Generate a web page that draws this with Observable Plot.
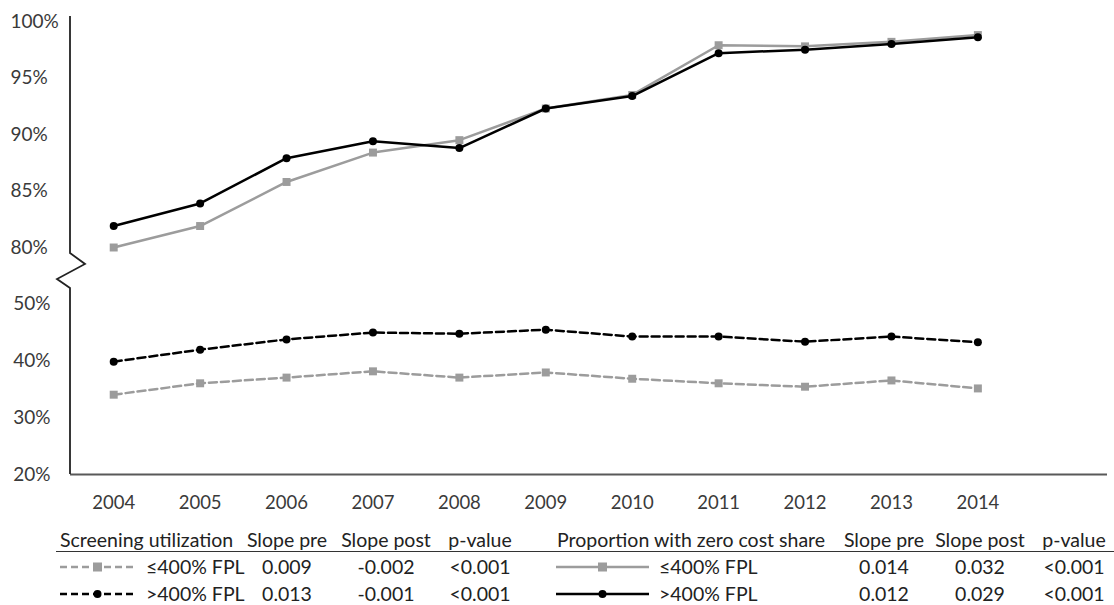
<!DOCTYPE html>
<html><head><meta charset="utf-8">
<script src="https://cdn.jsdelivr.net/npm/d3@7"></script>
<script src="https://cdn.jsdelivr.net/npm/@observablehq/plot@0.6"></script>
<style>
html,body{margin:0;padding:0;background:#fff;}
#wrap{position:relative;width:1114px;height:605px;font-family:Lato,sans-serif;}
#legend{position:absolute;left:0;top:520px;width:1114px;height:85px;}
.t{position:absolute;font-size:19.5px;color:#222;white-space:nowrap;transform:translate(0,-50%);line-height:1;}
.c{transform:translate(-50%,-50%);}
</style></head><body><div id="wrap"></div>
<script>
// ---- data ----
const years = [2004, 2005, 2006, 2007, 2008, 2009, 2010, 2011, 2012, 2013, 2014];
const zeroCostLow  = [80.0, 81.9, 85.8, 88.4, 89.5, 92.3, 93.5, 97.9, 97.8, 98.2, 98.8];
const zeroCostHigh = [81.9, 83.9, 87.9, 89.4, 88.8, 92.3, 93.4, 97.2, 97.5, 98.0, 98.6];
const screeningLow  = [34.0, 36.0, 37.0, 38.1, 37.0, 37.9, 36.8, 36.0, 35.4, 36.5, 35.1];
const screeningHigh = [39.8, 41.9, 43.7, 44.9, 44.7, 45.4, 44.2, 44.2, 43.3, 44.2, 43.2];
const yTicksTop = [80, 85, 90, 95, 100];
const yTicksBottom = [20, 30, 40, 50];
const groups = ["≤400% FPL", ">400% FPL"];
const leftHeader = ["Screening utilization", "Slope pre", "Slope post", "p-value"];
const rightHeader = ["Proportion with zero cost share", "Slope pre", "Slope post", "p-value"];
const screeningStats = [["0.009", "-0.002", "<0.001"], ["0.013", "-0.001", "<0.001"]];
const zeroCostStats  = [["0.014", "0.032", "<0.001"], ["0.012", "0.029", "<0.001"]];

const GRAY = "#9c9c9c", BLACK = "#000";
const rows = (vals) => years.map((year, i) => ({year, value: vals[i]}));

// broken y-axis line drawn from the y scale
const breakAxis = (index, scales, values, dims) => {
  const y = scales.y, x0 = dims.marginLeft;
  const pts = [[x0, y(100) - 5], [x0, y(80) + 6], [x0 + 15, y(80) + 17], [x0 - 13, y(80) + 32], [x0, y(50) - 15], [x0, y(20)]];
  const p = document.createElementNS("http://www.w3.org/2000/svg", "path");
  p.setAttribute("d", d3.line()(pts));
  p.setAttribute("fill", "none");
  p.setAttribute("stroke", "#222");
  p.setAttribute("stroke-width", "1.8");
  return p;
};

const chart = Plot.plot({
  width: 1114, height: 520,
  marginLeft: 70, marginRight: 7, marginTop: 14, marginBottom: 46,
  style: {fontFamily: "Lato, sans-serif", fontSize: "18px", color: "#3a3a3a", background: "#fff", overflow: "visible"},
  x: {type: "linear", domain: [2003.5, 2015.5], range: [70, 1107]},
  y: {type: "linear", domain: [20, 50, 80, 100], range: [474, 303, 247, 21]},
  marks: [
    Plot.ruleY([20], {stroke: "#595959", strokeWidth: 2}),
    breakAxis,
    Plot.axisY({ticks: yTicksTop, tickSize: 0, tickPadding: 60, textAnchor: "start", tickFormat: d => d + "%", label: null, fontSize: 19}),
    Plot.axisY({ticks: yTicksBottom, tickSize: 0, tickPadding: 20, tickFormat: d => d + "%", label: null, fontSize: 19}),
    Plot.axisX({ticks: years, tickSize: 0, tickPadding: 21, tickFormat: d => String(d), label: null, fontSize: 18.5}),
    Plot.line(rows(screeningLow), {x: "year", y: "value", stroke: GRAY, strokeWidth: 2.5, strokeDasharray: "8,4"}),
    Plot.dot(rows(screeningLow), {x: "year", y: "value", symbol: "square", fill: GRAY, r: 4.5}),
    Plot.line(rows(screeningHigh), {x: "year", y: "value", stroke: BLACK, strokeWidth: 2.5, strokeDasharray: "8,4"}),
    Plot.dot(rows(screeningHigh), {x: "year", y: "value", fill: BLACK, r: 4}),
    Plot.line(rows(zeroCostLow), {x: "year", y: "value", stroke: GRAY, strokeWidth: 2.5}),
    Plot.dot(rows(zeroCostLow), {x: "year", y: "value", symbol: "square", fill: GRAY, r: 4.5}),
    Plot.line(rows(zeroCostHigh), {x: "year", y: "value", stroke: BLACK, strokeWidth: 2.5}),
    Plot.dot(rows(zeroCostHigh), {x: "year", y: "value", fill: BLACK, r: 4})
  ]
});
const wrap = document.getElementById("wrap");
wrap.appendChild(chart);

// ---- legend table ----
const legend = document.createElement("div");
legend.id = "legend";
wrap.appendChild(legend);
const top0 = 520;
function txt(s, x, y, center) {
  const e = document.createElement("div");
  e.className = "t" + (center ? " c" : "");
  e.textContent = s;
  e.style.left = x + "px"; e.style.top = (y - top0) + "px";
  legend.appendChild(e);
}
function swatch(x1, x2, y, color, dashed, square) {
  const ns = "http://www.w3.org/2000/svg";
  const s = document.createElementNS(ns, "svg");
  s.setAttribute("width", x2 - x1 + 10); s.setAttribute("height", 14);
  s.style.position = "absolute"; s.style.left = (x1 - 5) + "px"; s.style.top = (y - top0 - 7) + "px";
  const l = document.createElementNS(ns, "line");
  l.setAttribute("x1", 5); l.setAttribute("x2", x2 - x1 + 5); l.setAttribute("y1", 7); l.setAttribute("y2", 7);
  l.setAttribute("stroke", color); l.setAttribute("stroke-width", 2.5);
  if (dashed) l.setAttribute("stroke-dasharray", "7,4");
  s.appendChild(l);
  const cx = 5 + (x2 - x1) / 2;
  let m;
  if (square) { m = document.createElementNS(ns, "rect"); m.setAttribute("x", cx - 4.5); m.setAttribute("y", 2.5); m.setAttribute("width", 9); m.setAttribute("height", 9); }
  else { m = document.createElementNS(ns, "circle"); m.setAttribute("cx", cx); m.setAttribute("cy", 7); m.setAttribute("r", 4); }
  m.setAttribute("fill", color);
  s.appendChild(m);
  legend.appendChild(s);
}
const hdrY = 540, rowY = [567, 594];
const leftCols = [287, 386, 480], rightCols = [884, 980, 1074];
txt(leftHeader[0], 60, hdrY);
leftHeader.slice(1).forEach((h, i) => txt(h, leftCols[i], hdrY, true));
txt(rightHeader[0], 557, hdrY);
rightHeader.slice(1).forEach((h, i) => txt(h, rightCols[i], hdrY, true));
const rule = document.createElement("div");
rule.style.cssText = `position:absolute;left:56px;top:${551 - top0}px;width:1058px;height:0;border-top:1.8px solid #333;`;
legend.appendChild(rule);
groups.forEach((g, r) => {
  const col = r === 0 ? GRAY : BLACK, sq = r === 0;
  swatch(60, 135, rowY[r], col, true, sq);
  txt(g, 146, rowY[r]);
  screeningStats[r].forEach((v, i) => txt(v, leftCols[i], rowY[r], true));
  swatch(556, 649, rowY[r], col, false, sq);
  txt(g, 659, rowY[r]);
  zeroCostStats[r].forEach((v, i) => txt(v, rightCols[i], rowY[r], true));
});
</script></body></html>
